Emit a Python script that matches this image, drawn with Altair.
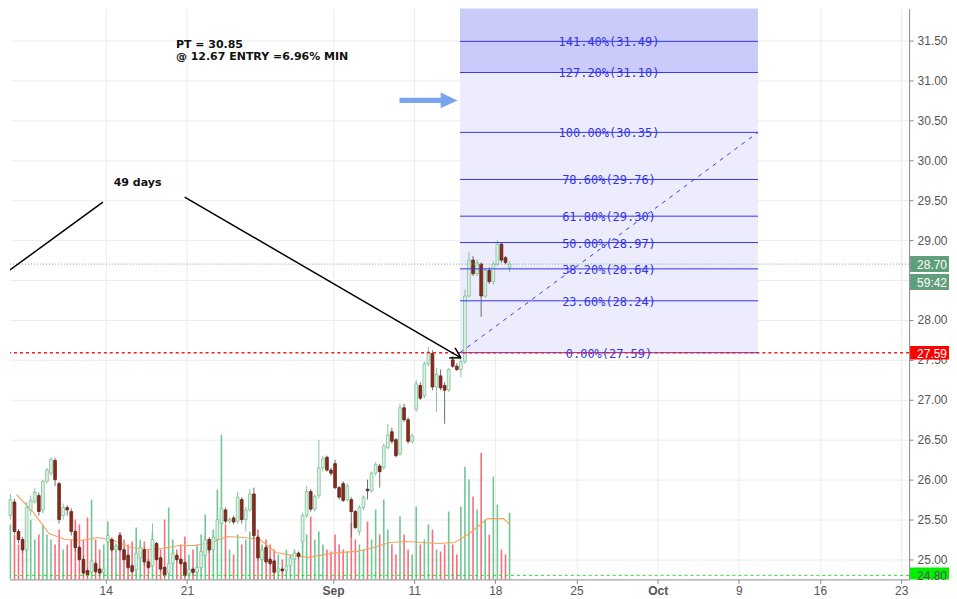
import altair as alt
import pandas as pd

# ---------------- data ----------------
# four bars per trading day, first bar day = Aug 4 (day -6, Aug 14 = day 0)
opens = [25.55, 25.72, 25.35, 25.25, 25.12, 25.62, 25.72, 25.80, 25.62, 25.98, 26.08, 26.24,
         25.95, 25.55, 25.65, 25.60, 25.35, 25.15, 25.00, 24.86, 24.84, 24.95, 24.88, 24.84,
         25.22, 25.25, 25.12, 25.30, 25.12, 25.05, 24.92, 24.87, 25.02, 25.12, 24.97, 24.92,
         25.20, 25.02, 24.90, 24.83, 24.95, 25.05, 25.00, 24.96, 24.82, 24.88, 24.84, 24.90,
         25.05, 25.25, 25.12, 25.25, 25.45, 25.62, 25.48, 25.52, 25.48, 25.75, 25.50, 25.62,
         25.82, 25.28, 25.00, 25.15, 25.00, 24.98, 24.85, 24.88, 24.86, 24.92, 25.00, 25.08,
         25.22, 25.55, 25.85, 25.63, 25.80, 26.15, 26.28, 26.12, 26.20, 25.90, 25.95, 25.75,
         25.75, 25.60, 25.35, 25.65, 25.88, 25.86, 26.08, 26.17, 26.15, 26.40, 26.60, 26.50,
         26.32, 26.90, 26.75, 26.48, 26.88, 27.18, 27.05, 27.45, 27.58, 27.16, 27.30, 27.18,
         27.12, 27.50, 27.42, 27.38, 27.48, 28.30, 28.75, 28.58, 28.70, 28.30, 28.62, 28.48,
         28.70, 28.95, 28.78, 28.66]
highs = [25.82, 25.76, 25.38, 25.28, 25.72, 25.80, 25.90, 25.84, 26.00, 26.15, 26.28, 26.27,
         25.97, 25.70, 25.68, 25.64, 25.38, 25.18, 25.05, 24.90, 25.02, 24.98, 24.90, 24.90,
         25.32, 25.28, 25.20, 25.34, 25.14, 25.08, 24.95, 25.10, 25.20, 25.15, 25.00, 25.45,
         25.22, 25.04, 24.92, 24.98, 25.12, 25.08, 25.02, 24.98, 24.90, 24.90, 24.95, 25.15,
         25.30, 25.28, 25.32, 25.55, 25.90, 25.65, 25.53, 25.55, 25.85, 25.78, 25.66, 25.88,
         25.90, 25.30, 25.15, 25.18, 25.03, 25.00, 24.90, 24.90, 24.95, 25.05, 25.10, 25.10,
         25.58, 25.92, 25.88, 25.82, 26.50, 26.30, 26.30, 26.15, 26.25, 25.92, 25.98, 25.95,
         25.78, 25.62, 25.68, 25.80, 26.00, 26.10, 26.22, 26.20, 26.45, 26.70, 26.65, 26.52,
         26.95, 26.95, 26.78, 26.58, 27.25, 27.22, 27.48, 27.66, 27.62, 27.40, 27.38, 27.22,
         27.40, 27.55, 27.46, 27.52, 28.38, 28.85, 28.80, 28.76, 28.72, 28.65, 28.66, 28.74,
         29.00, 28.97, 28.80, 28.74]
lows = [25.50, 25.32, 25.20, 25.08, 25.10, 25.55, 25.70, 25.55, 25.58, 25.95, 26.05, 25.92,
        25.45, 25.50, 25.55, 25.30, 25.10, 24.98, 24.80, 24.78, 24.80, 24.82, 24.80, 24.81,
        25.20, 25.10, 25.08, 25.10, 24.98, 24.88, 24.83, 24.82, 25.00, 24.93, 24.88, 24.90,
        24.98, 24.85, 24.78, 24.80, 24.93, 24.97, 24.92, 24.78, 24.79, 24.80, 24.82, 24.85,
        25.00, 25.08, 25.10, 25.22, 25.42, 25.45, 25.46, 25.44, 25.45, 25.45, 25.35, 25.60,
        25.25, 24.98, 24.98, 24.95, 24.93, 24.82, 24.82, 24.83, 24.84, 24.90, 24.98, 25.00,
        25.20, 25.52, 25.60, 25.60, 25.76, 26.10, 26.10, 26.05, 25.88, 25.75, 25.72, 25.72,
        25.28, 25.38, 25.30, 25.62, 25.75, 25.84, 26.05, 25.90, 26.12, 26.38, 26.45, 26.28,
        26.30, 26.72, 26.45, 26.45, 26.85, 27.00, 27.02, 27.42, 27.12, 26.85, 27.12, 26.70,
        27.10, 27.40, 27.36, 27.28, 27.45, 28.28, 28.55, 28.55, 28.04, 28.28, 28.45, 28.44,
        28.68, 28.72, 28.70, 28.60]
closes = [25.75, 25.35, 25.25, 25.12, 25.65, 25.74, 25.84, 25.60, 25.98, 26.12, 26.25, 26.00,
          25.50, 25.65, 25.62, 25.35, 25.15, 25.00, 24.83, 24.80, 24.98, 24.85, 24.83, 24.88,
          25.30, 25.12, 25.17, 25.12, 25.00, 24.90, 24.85, 25.08, 25.15, 24.97, 24.90, 25.25,
          25.00, 24.88, 24.80, 24.95, 25.08, 25.00, 24.95, 24.80, 24.88, 24.84, 24.90, 25.10,
          25.25, 25.12, 25.28, 25.50, 25.64, 25.48, 25.50, 25.47, 25.78, 25.50, 25.62, 25.82,
          25.30, 25.02, 25.12, 24.97, 24.95, 24.84, 24.88, 24.86, 24.92, 25.02, 25.08, 25.04,
          25.55, 25.85, 25.63, 25.79, 26.15, 26.26, 26.12, 26.08, 25.90, 25.78, 25.74, 25.92,
          25.60, 25.40, 25.65, 25.78, 25.86, 26.08, 26.19, 26.10, 26.42, 26.56, 26.48, 26.30,
          26.90, 26.75, 26.48, 26.55, 27.20, 27.02, 27.45, 27.60, 27.16, 27.32, 27.15, 27.12,
          27.38, 27.42, 27.38, 27.48, 28.30, 28.75, 28.58, 28.72, 28.30, 28.62, 28.48, 28.70,
          28.95, 28.75, 28.72, 28.70]
volumes = [55, 45, 35, 30, 70, 60, 40, 45, 55, 45, 40, 35, 50, 30, 35, 40, 60, 55, 40, 62,
           80, 40, 30, 35, 58, 40, 35, 47, 40, 35, 38, 52, 40, 38, 30, 47, 35, 30, 60, 72,
           40, 30, 35, 43, 25, 30, 35, 45, 65, 40, 50, 90, 145, 55, 30, 25, 45, 35, 40, 48,
           45, 50, 35, 40, 35, 30, 25, 20, 30, 25, 30, 25, 37, 45, 63, 40, 48, 35, 30, 28,
           45, 35, 30, 28, 57, 40, 35, 30, 58, 40, 70, 45, 80, 50, 35, 25, 63, 45, 30, 25,
           73, 35, 40, 55, 50, 30, 28, 35, 68, 35, 25, 73, 113, 100, 83, 70, 127, 60, 45, 103,
           75, 30, 25, 67]
# volume moving average, one reading per trading day (+ last bar)
ma_values = [85, 68, 46, 40, 39, 42, 39, 32, 30, 31, 34, 34, 37, 43, 42, 40, 27, 24, 22, 25,
             27, 28, 32, 37, 38, 37, 36, 37, 47, 61, 61, 55]

FIRST_DAY = -6
BARS_PER_DAY = 4

tick_days = [0, 5, 14, 19, 24, 29, 34, 39, 44, 49]
tick_labels = ["14", "21", "Sep", "11", "18", "25", "Oct", "9", "16", "23"]
price_ticks = [25.0, 25.5, 26.0, 26.5, 27.0, 27.5, 28.0, 28.5, 29.0, 29.5, 30.0, 30.5, 31.0, 31.5]

fib_pcts = [0.0, 23.6, 38.2, 50.0, 61.8, 78.6, 100.0, 127.2, 141.4, 161.8]
fib_prices = [27.59, 28.24, 28.64, 28.97, 29.30, 29.76, 30.35, 31.10, 31.49, 32.06]
FIB_T = [21.82, 40.18]
FIB_LABEL_T = 31.0

X_DOMAIN = [-5.593, 49.179]
Y_DOMAIN = [24.75, 31.9]
PLOT_W = 901
PLOT_H = 572

# ---------------- frames ----------------
n = len(closes)
t_bar = [FIRST_DAY + i // BARS_PER_DAY + (i % BARS_PER_DAY + 0.5) / BARS_PER_DAY for i in range(n)]
df = pd.DataFrame({"t": t_bar, "open": opens, "high": highs, "low": lows,
                   "close": closes, "vol": volumes})
up = df["close"] >= df["open"]
df["body_fill"] = up.map({True: "#dcf1e3", False: "#8b2b1b"})
df["body_stroke"] = up.map({True: "#6fbd8d", False: "#5a1a10"})
df["wick"] = up.map({True: "#8cbf9e", False: "#6e6e6e"})
df["vcol"] = up.map({True: "#5ec189", False: "#f55d6d"})

t_ma = [FIRST_DAY + d + 0.5 for d in range(len(ma_values) - 1)] + [24.9]
df_ma = pd.DataFrame({"t": t_ma, "ma": ma_values})

x_scale = alt.Scale(domain=X_DOMAIN, nice=False, zero=False)
y_scale = alt.Scale(domain=Y_DOMAIN, nice=False, zero=False)
v_scale = alt.Scale(domain=[0, PLOT_H], nice=False, zero=True)

label_expr = ("indexof(%s, datum.value) >= 0 ? %s[indexof(%s, datum.value)] : ''"
              % (str(tick_days), str(tick_labels), str(tick_days)))
x_axis = alt.Axis(values=tick_days, labelExpr=label_expr, title=None, grid=True,
                  gridColor="#ececec", domainColor="#8a8a8a", tickColor="#8a8a8a",
                  tickSize=4, labelPadding=2, labelColor="#555555", labelFont="Liberation Sans",
                  labelFontSize=12, labelFlush=False, labelOverlap=False,
                  labelFontWeight={"condition": {"test": "datum.value == 14 || datum.value == 34",
                                                 "value": "bold"}, "value": "normal"})
y_axis = alt.Axis(orient="right", values=price_ticks, format=".2f", title=None, grid=True,
                  gridColor="#ececec", domainColor="#8a8a8a", tickColor="#8a8a8a", tickSize=4,
                  labelPadding=4, labelColor="#555555", labelFont="Liberation Sans",
                  labelFontSize=12, labelFlush=False, labelOverlap=False)


def X(f="t"):
    return alt.X(f"{f}:Q", scale=x_scale, axis=x_axis)


def Y(f):
    return alt.Y(f"{f}:Q", scale=y_scale, axis=y_axis)


# fib areas
df_fibfill = pd.DataFrame({"t0": [FIB_T[0]] * 2, "t1": [FIB_T[1]] * 2,
                           "p0": [fib_prices[0], fib_prices[7]],
                           "p1": [fib_prices[7], 32.5],
                           "c": ["#ececfd", "#cbcbfa"]})
fib_fill = alt.Chart(df_fibfill).mark_rect(clip=True).encode(
    x=X("t0"), x2="t1", y=Y("p0"), y2="p1", color=alt.Color("c:N", scale=None))

wicks = alt.Chart(df).mark_rule(strokeWidth=1).encode(
    x=X(), y=Y("low"), y2="high", color=alt.Color("wick:N", scale=None))
bodies = alt.Chart(df).mark_bar(size=2.8, strokeWidth=0.7).encode(
    x=X(), y=Y("open"), y2="close",
    fill=alt.Fill("body_fill:N", scale=None), stroke=alt.Stroke("body_stroke:N", scale=None))

df_fib = pd.DataFrame({"t0": FIB_T[0], "t1": FIB_T[1], "price": fib_prices,
                       "t": FIB_LABEL_T,
                       "label": ["%.2f%%(%.2f)" % (p, v) for p, v in zip(fib_pcts, fib_prices)]})
fib_lines = alt.Chart(df_fib).mark_rule(clip=True, color="#3535f2", strokeWidth=1).encode(
    x=X("t0"), x2="t1", y=Y("price"))
fib_text = alt.Chart(df_fib).mark_text(clip=True, color="#3434e6", font="DejaVu Sans Mono",
                                       fontSize=12, baseline="middle", dy=1).encode(
    x=X("t"), y=Y("price"), text="label:N")
df_diag = pd.DataFrame({"t": FIB_T, "price": [fib_prices[0], fib_prices[6]]})
fib_diag = alt.Chart(df_diag).mark_line(clip=True, color="#3a3af5", strokeWidth=1,
                                        strokeDash=[4, 5]).encode(x=X(), y=Y("price"))

red_line = alt.Chart(pd.DataFrame({"price": [27.59]})).mark_rule(
    color="#ff1a1a", strokeWidth=1.6, strokeDash=[3, 3]).encode(y=Y("price"))
last_line = alt.Chart(pd.DataFrame({"price": [28.70]})).mark_rule(
    color="#6aa886", strokeWidth=1, strokeDash=[1, 2]).encode(y=Y("price"))
low_line = alt.Chart(pd.DataFrame({"price": [24.80]})).mark_rule(
    color="#2fe02f", strokeWidth=1, strokeDash=[3, 3]).encode(y=Y("price"))

# annotation lines (two strokes + arrow head)
df_ann = pd.DataFrame({
    "seg": ["a", "a", "b", "b", "h1", "h1", "h2", "h2"],
    "k": [0, 1, 0, 1, 0, 1, 0, 1],
    "t": [-6.08, -0.18, 4.86, 21.88, 21.155, 21.88, 21.52, 21.88],
    "price": [28.60, 29.475, 29.54, 27.525, 27.525, 27.525, 27.65, 27.525]})
ann_lines = alt.Chart(df_ann).mark_line(clip=True, color="black", strokeWidth=1.5).encode(
    x=X(), y=Y("price"), detail="seg:N", order="k:Q")

arrow_path = "M -1 -0.09 L 0.42 -0.09 L 0.42 -0.27 L 1 0 L 0.42 0.27 L 0.42 0.09 L -1 0.09 Z"
blue_arrow = alt.Chart(pd.DataFrame({"t": [19.88], "price": [30.75]})).mark_point(
    shape=arrow_path, size=3364, filled=True, color="#7aa4ee", opacity=1, strokeWidth=0).encode(
    x=X(), y=Y("price"))

df_txt = pd.DataFrame({"t": [4.32, 4.32, 0.49], "price": [31.44, 31.29, 29.71],
                       "txt": ["PT = 30.85", "@ 12.67 ENTRY =6.96% MIN", "49 days"]})
texts = alt.Chart(df_txt).mark_text(align="left", baseline="middle", font="DejaVu Sans",
                                    fontWeight="bold", fontSize=11, color="#111111").encode(
    x=X(), y=Y("price"), text="txt:N")

# price tags on the axis
df_tag = pd.DataFrame({"p0": [28.80, 28.575, 27.675, 24.90], "p1": [28.60, 28.375, 27.505, 24.75],
                       "pc": [28.70, 28.475, 27.59, 24.80],
                       "txt": ["28.70", "59:42", "27.59", "24.80"],
                       "bg": ["#5f9f79", "#5f9f79", "#ff0000", "#00f000"],
                       "fg": ["#ffffff", "#ffffff", "#ffffff", "#555555"]})
tag_box = alt.Chart(df_tag).mark_rect().encode(
    x=alt.value(PLOT_W + 1), x2=alt.value(PLOT_W + 40), y=Y("p0"), y2="p1",
    color=alt.Color("bg:N", scale=None))
tag_txt = alt.Chart(df_tag).mark_text(align="left", baseline="middle", font="Liberation Sans",
                                      fontSize=12, dy=1).encode(
    x=alt.value(PLOT_W + 8), y=Y("pc"), text="txt:N", color=alt.Color("fg:N", scale=None))

vol_bars = alt.Chart(df).mark_bar(size=1.6, opacity=0.9).encode(
    x=X(), y=alt.Y("vol:Q", scale=v_scale, axis=None), color=alt.Color("vcol:N", scale=None))
vol_ma = alt.Chart(df_ma).mark_line(color="#f6a35e", strokeWidth=1.2).encode(
    x=X(), y=alt.Y("ma:Q", scale=v_scale, axis=None))

vol_layer = alt.layer(vol_bars, vol_ma)
price_layer = alt.layer(fib_fill, wicks, bodies, fib_lines, fib_diag, fib_text, last_line,
                        low_line, red_line, ann_lines, blue_arrow, texts, tag_box, tag_txt)

chart = alt.layer(vol_layer, price_layer).resolve_scale(y="independent").properties(
    width=PLOT_W, height=PLOT_H, padding=0, background="white",
).configure_view(stroke="transparent")

chart.save("out.html", embed_options={"renderer": "svg", "actions": False})
